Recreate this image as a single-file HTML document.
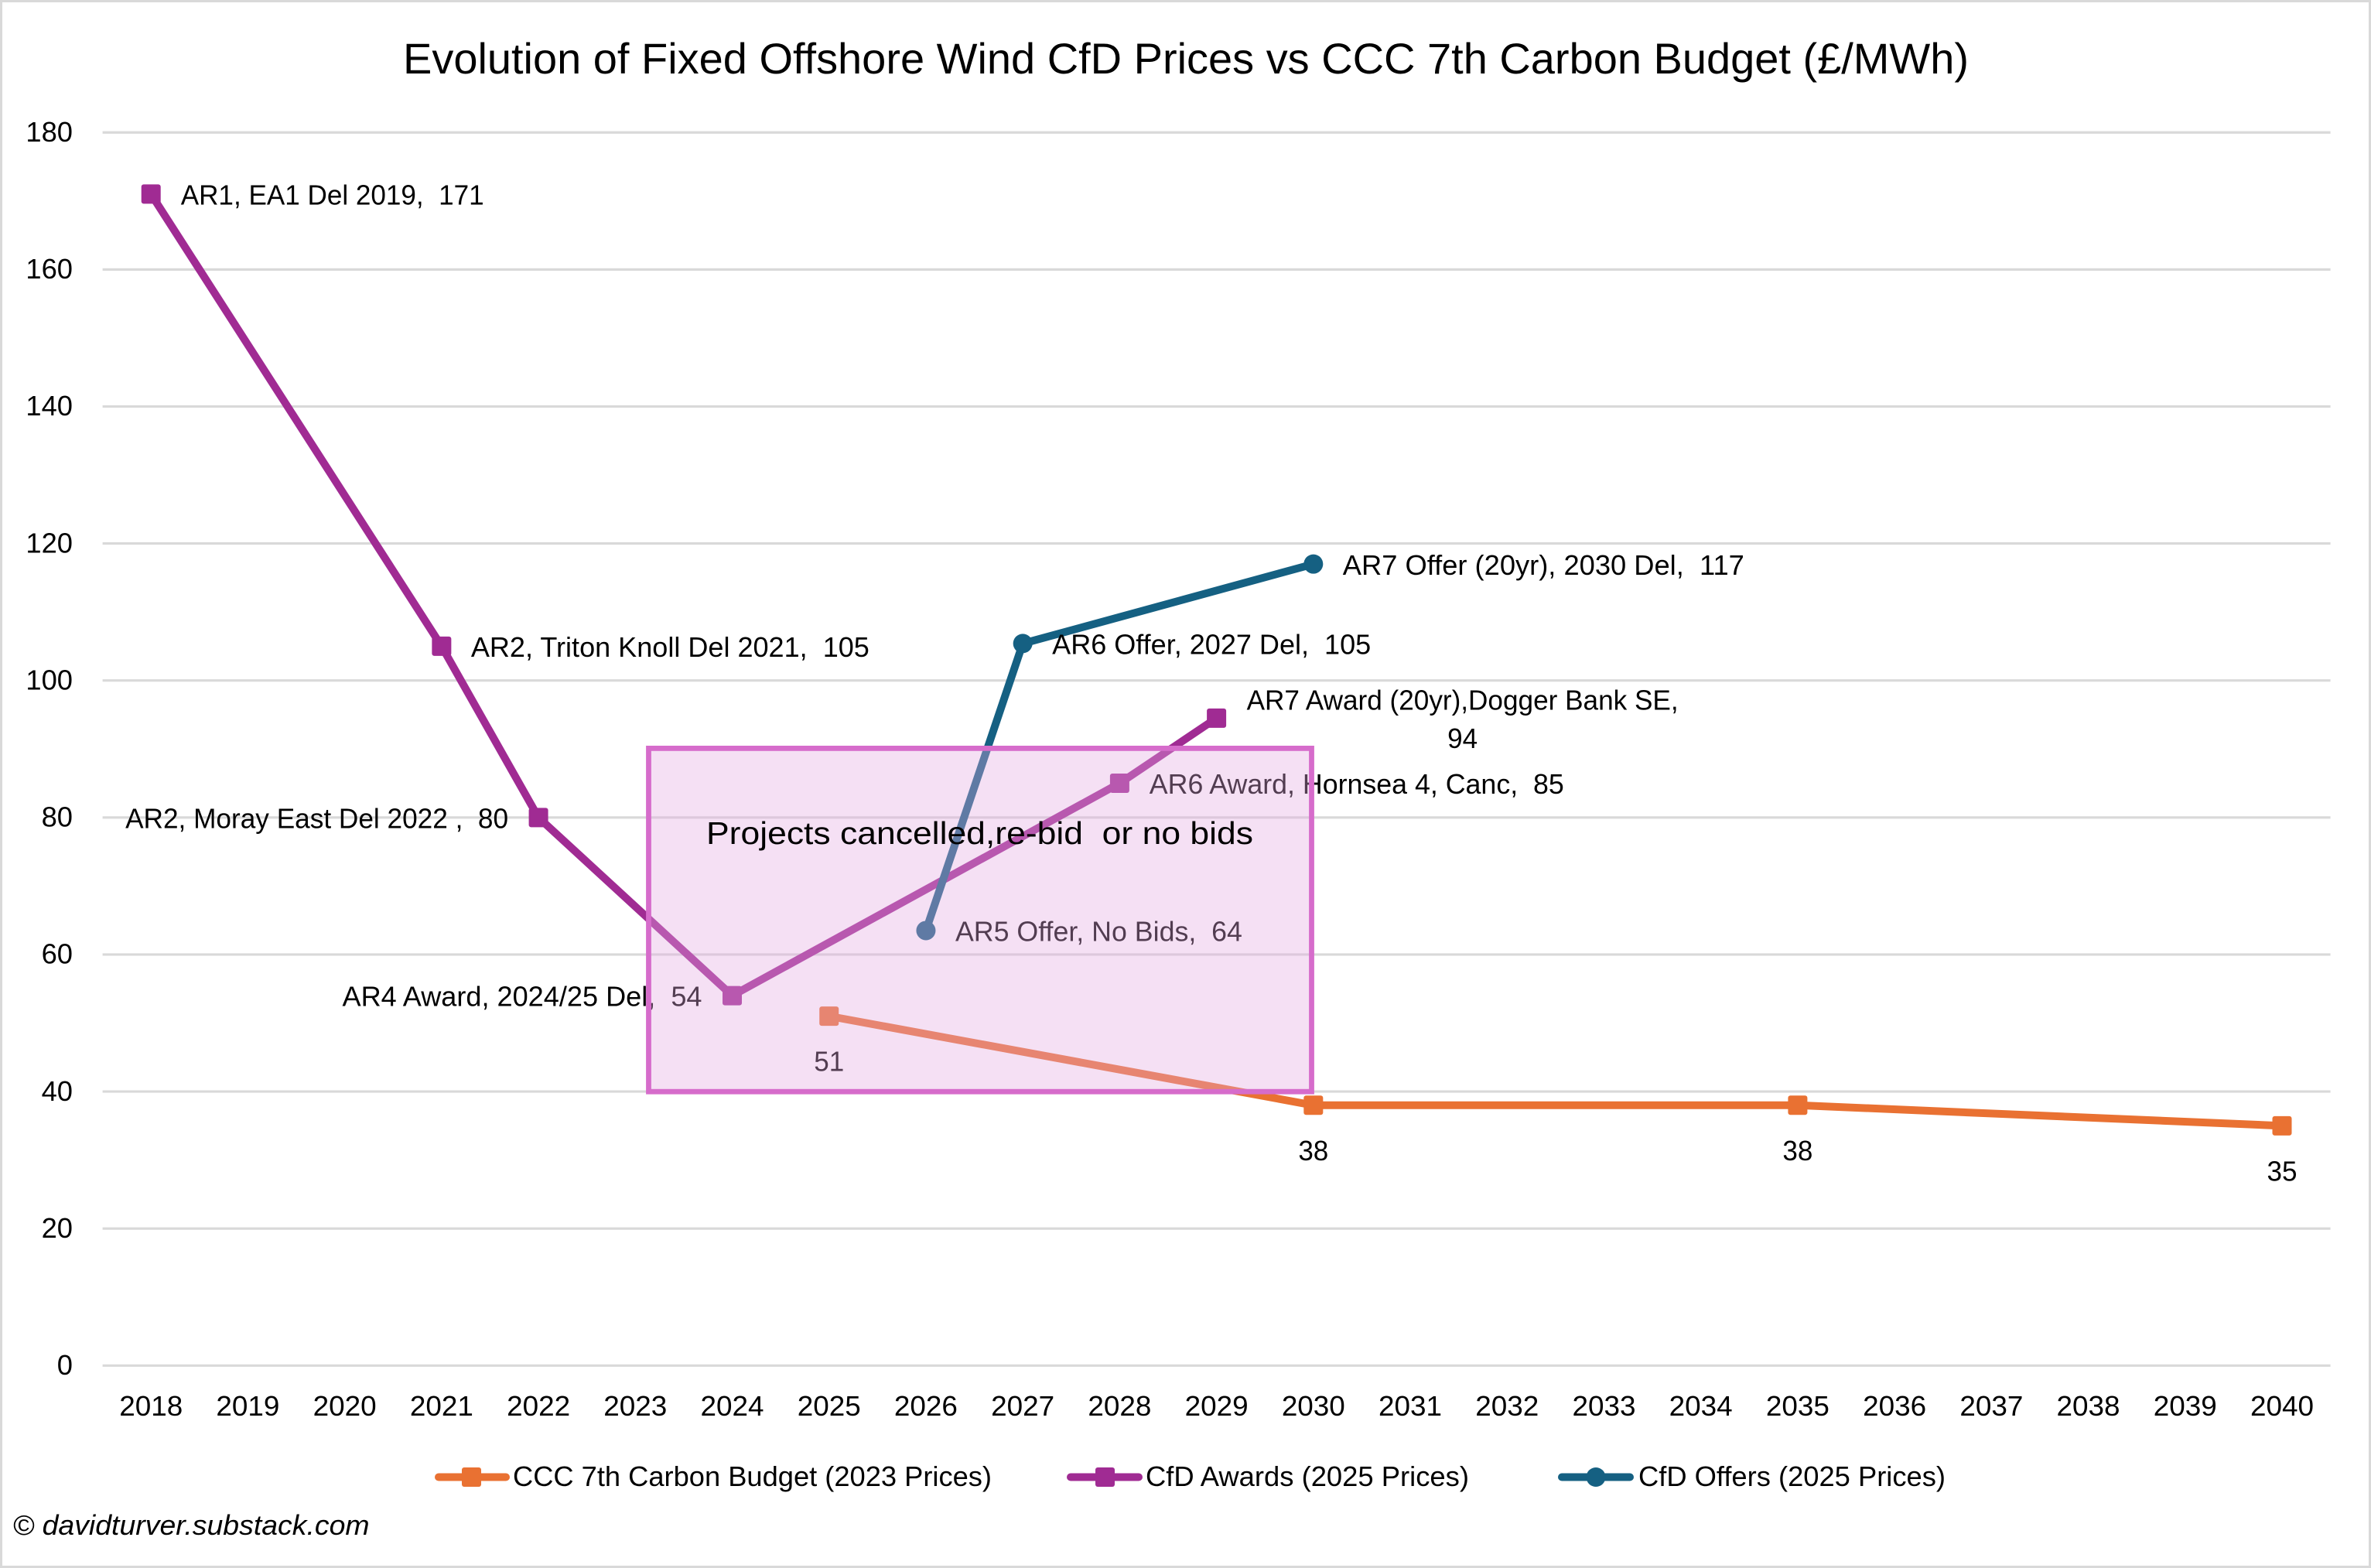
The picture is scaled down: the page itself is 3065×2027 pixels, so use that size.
<!DOCTYPE html>
<html lang="en">
<head>
<meta charset="utf-8">
<title>Evolution of Fixed Offshore Wind CfD Prices vs CCC 7th Carbon Budget</title>
<style>
html,body{margin:0;padding:0;background:#fff}
svg{display:block}
text{font-family:"Liberation Sans",sans-serif;fill:#000;white-space:pre}
</style>
</head>
<body>
<svg id="chart" xmlns="http://www.w3.org/2000/svg" width="3065" height="2027" viewBox="0 0 3065 2027">
  <rect x="1.5" y="1.5" width="3062" height="2024" fill="#fff" stroke="#d9d9d9" stroke-width="3"/>
  <text x="521" y="95" font-size="56" textLength="2024" lengthAdjust="spacingAndGlyphs">Evolution of Fixed Offshore Wind CfD Prices vs CCC 7th Carbon Budget (£/MWh)</text>
  <g id="grid"></g>
  <g id="yaxis"></g>
  <g id="xaxis"></g>
  <g id="series"></g>
  <g id="labels"></g>
  <rect x="838.5" y="967.4" width="857" height="443.8" fill="rgba(228,169,225,0.36)" stroke="#d66ccb" stroke-width="6.8"/>
  <text x="913" y="1091" font-size="41" textLength="707" lengthAdjust="spacingAndGlyphs">Projects cancelled,re-bid  or no bids</text>

  <g>
    <g>
      <line x1="567" y1="1909.5" x2="654" y2="1909.5" stroke="#e97132" stroke-width="10" stroke-linecap="round"/>
      <rect x="597" y="1897" width="25" height="25" rx="3" fill="#e97132"/>
      <text x="663" y="1921" font-size="36" textLength="619" lengthAdjust="spacingAndGlyphs">CCC 7th Carbon Budget (2023 Prices)</text>
    </g>
    <g>
      <line x1="1384" y1="1909.5" x2="1472" y2="1909.5" stroke="#a02b93" stroke-width="10" stroke-linecap="round"/>
      <rect x="1416" y="1897" width="25" height="25" rx="3" fill="#a02b93"/>
      <text x="1481" y="1921" font-size="36" textLength="418" lengthAdjust="spacingAndGlyphs">CfD Awards (2025 Prices)</text>
    </g>
    <g>
      <line x1="2019" y1="1909.5" x2="2107" y2="1909.5" stroke="#156082" stroke-width="10" stroke-linecap="round"/>
      <circle cx="2063" cy="1909.5" r="12.5" fill="#156082"/>
      <text x="2118" y="1921" font-size="36" textLength="397" lengthAdjust="spacingAndGlyphs">CfD Offers (2025 Prices)</text>
    </g>
  </g>
  <text x="16.6" y="1984" font-size="36" font-style="italic" textLength="461" lengthAdjust="spacingAndGlyphs">© davidturver.substack.com</text>
</svg>
<script>
const categories = [2018,2019,2020,2021,2022,2023,2024,2025,2026,2027,2028,2029,2030,2031,2032,2033,2034,2035,2036,2037,2038,2039,2040];
const yTicks = [0,20,40,60,80,100,120,140,160,180];

const cccYears = [2025,2030,2035,2040];
const cccValues = [51,38,38,35];
const cccLabels = ['51','38','38','35'];

const awardYears = [2018,2021,2022,2024,2028,2029];
const awardValues = [171,105,80,54,85,94.5];
const awardLabels = [
  'AR1, EA1 Del 2019,  171',
  'AR2, Triton Knoll Del 2021,  105',
  'AR2, Moray East Del 2022 ,  80',
  'AR4 Award, 2024/25 Del,  54',
  'AR6 Award, Hornsea 4, Canc,  85',
  'AR7 Award (20yr),Dogger Bank SE,'
];
const awardLabelExtra = '94';

const offerYears = [2026,2027,2030];
const offerValues = [63.5,105.4,117];
const offerLabels = [
  'AR5 Offer, No Bids,  64',
  'AR6 Offer, 2027 Del,  105',
  'AR7 Offer (20yr), 2030 Del,  117'
];

// Label layout (offsets from each mark, fitted widths) - presentation only
const awardLabelDx = [38.5,38,-534,-504,38.4,39];
const awardLabelDy = [13.5,13.5,13.5,13.5,13.7,-11];
const awardLabelWidth = [392,515,495,465,536,558];
const offerLabelDx = [38,38,38];
const offerLabelWidth = [371,412,519];

const plotLeft = 132.6, plotRight = 3012.6, zeroY = 1765.3, unitY = 8.856;
const NS = 'http://www.w3.org/2000/svg';
const band = (plotRight - plotLeft) / categories.length;
function xScale(year){ return plotLeft + (categories.indexOf(year) + 0.5) * band; }
function yScale(v){ return zeroY - v * unitY; }
function layer(id){ return document.getElementById(id); }
function svgEl(tag, attrs, parent){
  const el = document.createElementNS(NS, tag);
  for (const k in attrs) el.setAttribute(k, attrs[k]);
  parent.appendChild(el);
  return el;
}
function addText(parent, str, x, y, width, anchor, name){
  const t = svgEl('text', {x: x, y: y, 'font-size': 36, 'text-anchor': anchor, textLength: width, lengthAdjust: 'spacingAndGlyphs'}, parent);
  
  
  t.textContent = str;
  return t;
}

yTicks.forEach(function(v){
  const g = svgEl('line', {x1: plotLeft, x2: plotRight, y1: yScale(v), y2: yScale(v), stroke: '#d9d9d9', 'stroke-width': 3.2}, layer('grid'));
  
  
  const w = String(v).length * 20.2;
  addText(layer('yaxis'), String(v), 94 - w, yScale(v) + 11.7, w, 'start', 'y-tick-' + v);
});

categories.forEach(function(c){
  addText(layer('xaxis'), String(c), xScale(c), 1830, 82, 'middle', 'x-tick-' + c);
});

function drawSeries(name, years, values, color, marker){
  const pts = years.map(function(y, i){ return xScale(y) + ',' + yScale(values[i]); }).join(' ');
  const line = svgEl('polyline', {points: pts, fill: 'none', stroke: color, 'stroke-width': 10, 'stroke-linejoin': 'round', 'stroke-linecap': 'round'}, layer('series'));
  
  
  years.forEach(function(y, i){
    let m;
    if (marker === 'circle') {
      m = svgEl('circle', {cx: xScale(y), cy: yScale(values[i]), r: 12.5, fill: color}, layer('series'));
    } else {
      m = svgEl('rect', {x: xScale(y) - 12.5, y: yScale(values[i]) - 12.5, width: 25, height: 25, rx: 3, fill: color}, layer('series'));
    }
    
    
  });
}

drawSeries('ccc-budget', cccYears, cccValues, '#e97132', 'square');
drawSeries('cfd-awards', awardYears, awardValues, '#a02b93', 'square');
drawSeries('cfd-offers', offerYears, offerValues, '#156082', 'circle');

cccYears.forEach(function(y, i){
  addText(layer('labels'), cccLabels[i], xScale(y), yScale(cccValues[i]) + 71, 39, 'middle', 'ccc-label-' + y);
});
awardYears.forEach(function(y, i){
  addText(layer('labels'), awardLabels[i], xScale(y) + awardLabelDx[i], yScale(awardValues[i]) + awardLabelDy[i], awardLabelWidth[i], 'start', 'award-label-' + y);
});
addText(layer('labels'), awardLabelExtra, xScale(2029) + awardLabelDx[5] + awardLabelWidth[5] / 2, yScale(awardValues[5]) + 38.5, 39, 'middle', 'award-label-2029-value');
offerYears.forEach(function(y, i){
  addText(layer('labels'), offerLabels[i], xScale(y) + offerLabelDx[i], yScale(offerValues[i]) + 13.7, offerLabelWidth[i], 'start', 'offer-label-' + y);
});
</script>
</body>
</html>
